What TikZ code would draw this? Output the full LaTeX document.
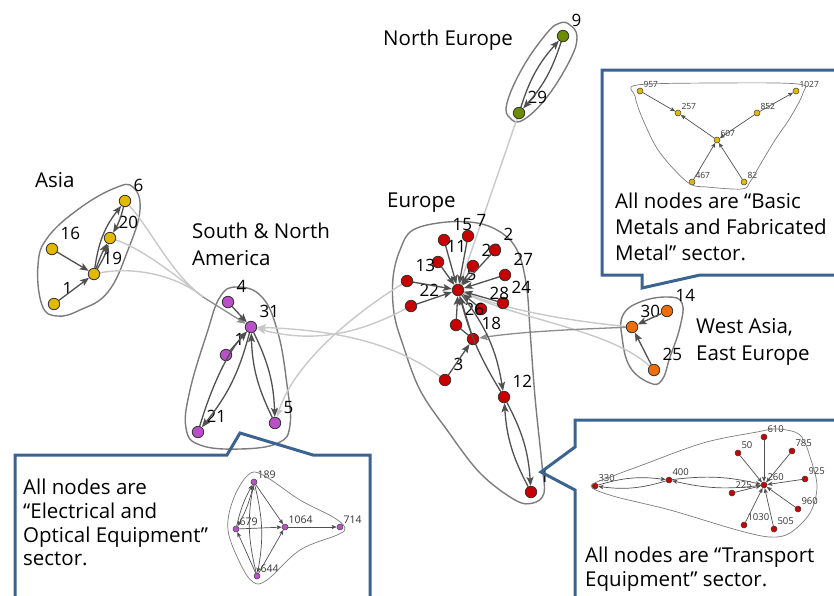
\documentclass[tikz,border=0pt]{standalone}
\usepackage{fontspec}
\setmainfont{Open Sans}
\usetikzlibrary{arrows.meta}
\definecolor{cyel}{HTML}{E1B900}
\definecolor{cpur}{HTML}{B950C8}
\definecolor{cred}{HTML}{C80000}
\definecolor{cora}{HTML}{F06E0A}
\definecolor{coli}{HTML}{6E8C00}
\definecolor{hullc}{HTML}{7C7C7C}
\definecolor{edgec}{HTML}{505050}
\definecolor{lightc}{HTML}{C8C8C8}
\definecolor{midc}{HTML}{8C8C8C}
\definecolor{callc}{HTML}{3B6391}
\pgfdeclarelayer{bg}
\pgfsetlayers{bg,main}
\begin{document}
\begin{tikzpicture}[x=1pt,y=1pt,
  nd/.style={circle,draw=black!80,line width=0.8pt,minimum size=11.5pt,inner sep=0pt},
  mn/.style={circle,draw=black!75,line width=0.5pt,minimum size=6pt,inner sep=0pt},
  lbl/.style={font=\fontsize{17}{17}\selectfont,inner sep=0pt,xshift=4pt,yshift=5pt},
  lab/.style={label={[lbl]45:#1}},
  mlA/.style={label={[font=\fontsize{8.5}{8.5}\selectfont,inner sep=0pt,text=black!80,xshift=1pt,yshift=1pt]45:#1}},
  mlB/.style={label={[font=\fontsize{9.5}{9.5}\selectfont,inner sep=0pt,text=black!80,xshift=1pt,yshift=1.5pt]45:#1}},
  mlC/.style={label={[font=\fontsize{10.5}{10.5}\selectfont,inner sep=0pt,text=black!80,xshift=1pt,yshift=1pt]45:#1}},
  hull/.style={draw=hullc,line width=1.4pt},
  mhull/.style={draw=hullc,line width=0.7pt},
  ed/.style={draw=edgec,line width=1.3pt,-{Stealth[length=9pt,width=7pt,inset=2pt]}},
  edn/.style={draw=edgec,line width=1.3pt},
  med/.style={draw=edgec,line width=0.7pt,-{Stealth[length=5pt,width=4pt,inset=1pt]}},
  lt/.style={draw=lightc,line width=1.4pt},
  ltar/.style={lt,-{Stealth[length=9pt,width=7pt,inset=2pt]}},
  callout/.style={draw=callc,line width=3pt,line join=miter},
  region/.style={font=\fontsize{20.5}{24}\selectfont,inner sep=0pt,anchor=base west},
  ctext/.style={font=\fontsize{20.5}{24}\selectfont,inner sep=0pt,anchor=base west},
]
\useasboundingbox (0,0) rectangle (834,-595);

% ---------- region labels
\node[region] (tAsia) at (35,-187) {Asia};
\node[region] (tAm1) at (192,-238) {South \& North};
\node[region] (tAm2) at (192,-265) {America};
\node[region] (tEu) at (387,-207) {Europe};
\node[region] (tNE) at (383,-45) {North Europe};
\node[region] (tWA1) at (696,-333) {West Asia,};
\node[region] (tWA2) at (696,-360) {East Europe};

% ---------- nodes: Asia
\node[nd,fill=cyel,lab=6] (a6) at (125,-201) {};
\node[nd,fill=cyel,lab=20] (a20) at (110,-238) {};
\node[nd,fill=cyel,lab=19] (a19) at (94,-274) {};
\node[nd,fill=cyel,lab=16] (a16) at (52,-249) {};
\node[nd,fill=cyel,lab=1] (a1) at (54,-304) {};
% America
\node[nd,fill=cpur,lab=4] (a4) at (228,-302) {};
\node[nd,fill=cpur,lab=31] (a31) at (251,-327) {};
\node[nd,fill=cpur,lab=1] (am1) at (226,-355) {};
\node[nd,fill=cpur,lab=21] (a21) at (198,-432) {};
\node[nd,fill=cpur,lab=5] (a5) at (275,-423) {};
% Europe
\node[nd,fill=cred,lab=5] (e8) at (458,-290) {};
\node[nd,fill=cred,lab=15] (e15) at (444,-240) {};
\node[nd,fill=cred,lab=7] (e7) at (468,-236) {};
\node[nd,fill=cred,lab=11] (e11) at (438,-262) {};
\node[nd,fill=cred,lab=13] (e13) at (407,-281) {};
\node[nd,fill=cred,lab=22] (e22) at (411,-306) {};
\node[nd,fill=cred,lab=23] (e23) at (473,-266) {};
\node[nd,fill=cred,lab=2] (e2) at (495,-250) {};
\node[nd,fill=cred,lab=27] (e27) at (505,-275) {};
\node[nd,fill=cred,lab=24] (e24) at (503,-303) {};
\node[nd,fill=cred,lab=28] (e28) at (481,-309) {};
\node[nd,fill=cred,lab=26] (e26) at (456,-325) {};
\node[nd,fill=cred,lab=18] (e18) at (473,-339) {};
\node[nd,fill=cred,lab=3] (e3) at (445,-380) {};
\node[nd,fill=cred,lab=12] (e12) at (504,-397) {};
\node[nd,fill=cred,lab=1] (e1x) at (531,-492) {};
% North Europe
\node[nd,fill=coli,lab=9] (n9) at (563,-36) {};
\node[nd,fill=coli,lab=29] (n29) at (519,-113) {};
% West Asia
\node[nd,fill=cora,lab=14] (w14) at (667,-311) {};
\node[nd,fill=cora,lab=30] (w30) at (632,-327) {};
\node[nd,fill=cora,lab=25] (w25) at (654,-370) {};

\coordinate (asj) at (203,-297);

\begin{pgfonlayer}{bg}
% hulls
\draw[hull] plot[smooth cycle,tension=0.7] coordinates {(133,-187) (140,-210) (128,-250) (108,-292) (80,-310) (57,-316) (42,-305) (38,-265) (48,-237) (80,-208) (115,-188)};
\draw[hull] plot[smooth cycle,tension=0.7] coordinates {(237,-287) (262,-297) (278,-333) (287,-385) (290,-425) (278,-443) (240,-449) (200,-445) (186,-428) (190,-390) (207,-333) (220,-297)};
\draw[hull] plot[smooth cycle,tension=0.6] coordinates {(447,-222) (482,-224) (507,-237) (520,-257) (527,-290) (530,-330) (535,-397) (542,-465) (544,-493) (533,-503) (515,-500) (480,-473) (447,-430) (420,-390) (403,-345) (394,-313) (393,-278) (400,-250) (413,-230)};
\draw[hull] plot[smooth cycle,tension=0.7] coordinates {(570,-25) (577,-37) (570,-60) (547,-97) (523,-120) (510,-118) (507,-103) (523,-67) (547,-33) (560,-23)};
\draw[hull] plot[smooth cycle,tension=0.7] coordinates {(623,-315) (640,-302) (667,-297) (682,-303) (680,-327) (670,-357) (662,-380) (650,-383) (630,-367) (622,-337)};
% light inter-region edges
\draw[lt] (a6) .. controls (150,-228) and (172,-275) .. (asj);
\draw[lt] (a20) .. controls (140,-248) and (172,-272) .. (asj);
\draw[lt] (a19) .. controls (135,-266) and (178,-276) .. (asj);
\draw[ltar] (e13) .. controls (360,-310) and (295,-360) .. (a5);
\draw[ltar] (e22) .. controls (365,-330) and (320,-345) .. (a31);
\draw[ltar] (e3) .. controls (390,-340) and (330,-330) .. (a31);
\draw[lt] (n29) -- (e8);
\draw[lt] (e8) .. controls (510,-312) and (580,-322) .. (w30);
\draw[lt] (e8) .. controls (520,-320) and (610,-330) .. (w25);
\end{pgfonlayer}

% ---------- edges
\draw[ed,draw=midc] (asj) -- (a31);
\draw[ed,draw=black!45] (w30) .. controls (585,-329) and (525,-331) .. (e18);
% Asia
\draw[ed] (a16) -- (a19);
\draw[ed] (a1) -- (a19);
\draw[ed] (a19) to[bend left=15] (a6);
\draw[ed] (a6) to[bend left=8] (a20);
\draw[ed] (a19) to[bend right=8] (a20);
\draw[ed] (a19) to[bend left=4] (a20);
% America
\draw[ed] (a4) -- (a31);
\draw[ed] (am1) -- (a31);
\draw[ed] (a21) .. controls (212,-385) and (228,-352) .. (a31);
\draw[ed] (a31) to[bend left=12] (a21);
\draw[ed] (a31) to[bend left=12] (a5);
\draw[ed] (a5) to[bend left=12] (a31);
% Europe
\foreach \s in {e15,e7,e11,e13,e22,e23,e2,e27,e24,e28,e26,e18}
  \draw[ed] (\s) -- (e8);
\draw[ed] (e3) -- (e18);
\draw[edn] (e26) -- (e18);
\draw[ed] (e8) to[bend left=14] (e12);
\draw[ed] (e12) to[bend left=8] (e8);
\draw[ed] (e12) to[bend left=12] (e1x);
\draw[ed] (e1x) to[bend left=12] (e12);
% North Europe
\draw[ed] (n29) to[bend left=12] (n9);
\draw[ed] (n9) to[bend left=12] (n29);
% West Asia
\draw[ed] (w14) -- (w30);
\draw[ed] (w25) -- (w30);

% ---------- callout: top right
\draw[callout] (602,-70) -- (845,-70) -- (845,-275) -- (700,-275) -- (642,-288) -- (642,-275) -- (602,-275) -- cycle;
\node[ctext] (c1a) at (615,-208) {All nodes are “Basic};
\node[ctext] (c1b) at (615,-234) {Metals and Fabricated};
\node[ctext] (c1c) at (615,-260) {Metal” sector.};
\node[mn,fill=cyel,mlA=957] (m957) at (640,-91) {};
\node[mn,fill=cyel,mlA=257] (m257) at (678,-113) {};
\node[mn,fill=cyel,mlA=852] (m852) at (757,-113) {};
\node[mn,fill=cyel,mlA=1027] (m1027) at (796,-91) {};
\node[mn,fill=cyel,mlA=607] (m607) at (717,-140) {};
\node[mn,fill=cyel,mlA=467] (m467) at (692,-182) {};
\node[mn,fill=cyel,mlA=82] (m82) at (744,-182) {};
\draw[mhull] plot[smooth cycle,tension=0.55] coordinates {(637,-85) (720,-83) (798,-84) (803,-93) (790,-118) (775,-140) (760,-165) (750,-182) (742,-189) (707,-187) (690,-184) (670,-165) (655,-145) (641,-115) (635,-96)};
\draw[med] (m957) -- (m257);
\draw[med] (m607) -- (m257);
\draw[med] (m852) -- (m1027);
\draw[med] (m852) -- (m607);
\draw[med] (m467) -- (m607);
\draw[med] (m82) -- (m607);

% ---------- callout: bottom right
\draw[callout] (575,-420) -- (845,-420) -- (845,-610) -- (575,-610) -- (575,-490) -- (541,-472) -- (575,-447) -- cycle;
\node[ctext] (c2a) at (585,-562) {All nodes are “Transport};
\node[ctext] (c2b) at (585,-586) {Equipment” sector.};
\node[mn,fill=cred,mlB=330] (t330) at (595,-486) {};
\node[mn,fill=cred,mlB=400] (t400) at (669,-480) {};
\node[mn,fill=cred,mlB=225] (t225) at (732,-493) {};
\node[mn,fill=cred,mlB=260] (t260) at (764,-485) {};
\node[mn,fill=cred,mlB=610] (t610) at (764,-437) {};
\node[mn,fill=cred,mlB=50] (t50) at (738,-453) {};
\node[mn,fill=cred,mlB=785] (t785) at (792,-451) {};
\node[mn,fill=cred,mlB=925] (t925) at (805,-479) {};
\node[mn,fill=cred,mlB=960] (t960) at (798,-509) {};
\node[mn,fill=cred,mlB=505] (t505) at (774,-529) {};
\node[mn,fill=cred,mlB=1030] (t1030) at (744,-525) {};
\draw[mhull] plot[smooth cycle,tension=0.55] coordinates {(591,-486) (613,-476) (637,-467) (703,-443) (757,-432) (777,-429) (800,-435) (811,-460) (817,-487) (810,-513) (790,-533) (770,-537) (737,-530) (670,-510) (613,-496)};
\draw[med] (t330) to[bend left=12] (t400);
\draw[med] (t400) to[bend left=12] (t330);
\draw[med] (t400) to[bend left=10] (t260);
\draw[med] (t260) to[bend left=10] (t400);
\draw[med] (t225) -- (t260);
\foreach \s in {t610,t50,t785,t925,t960,t505,t1030}
  \draw[med] (\s) -- (t260);

% ---------- callout: bottom left
\draw[callout] (15,-455) -- (227,-455) -- (240,-433) -- (313,-455) -- (370,-455) -- (370,-610) -- (15,-610) -- cycle;
\node[ctext] (c3a) at (23,-494) {All nodes are};
\node[ctext] (c3b) at (23,-518) {“Electrical and};
\node[ctext] (c3c) at (23,-542) {Optical Equipment”};
\node[ctext] (c3d) at (23,-565) {sector.};
\node[mn,fill=cpur,mlC=189] (p189) at (254,-482) {};
\node[mn,fill=cpur,mlC=679] (p679) at (236,-529) {};
\node[mn,fill=cpur,mlC=1064] (p1064) at (285,-527) {};
\node[mn,fill=cpur,mlC=714] (p714) at (340,-527) {};
\node[mn,fill=cpur,mlC=644] (p644) at (257,-576) {};
\draw[mhull] plot[smooth cycle,tension=0.6] coordinates {(248,-475) (263,-475) (300,-500) (333,-517) (345,-528) (337,-535) (300,-550) (267,-580) (253,-582) (240,-563) (228,-530) (233,-500)};
\draw[med] (p189) to[bend left=8] (p679);
\draw[med] (p679) to[bend left=8] (p189);
\draw[med] (p189) -- (p1064);
\draw[med] (p679) -- (p1064);
\draw[med] (p644) -- (p679);
\draw[med] (p644) -- (p1064);
\draw[med] (p189) to[bend left=12] (p644);
\draw[med] (p644) to[bend left=12] (p189);
\draw[med] (p1064) -- (p714);
\end{tikzpicture}
\end{document}
